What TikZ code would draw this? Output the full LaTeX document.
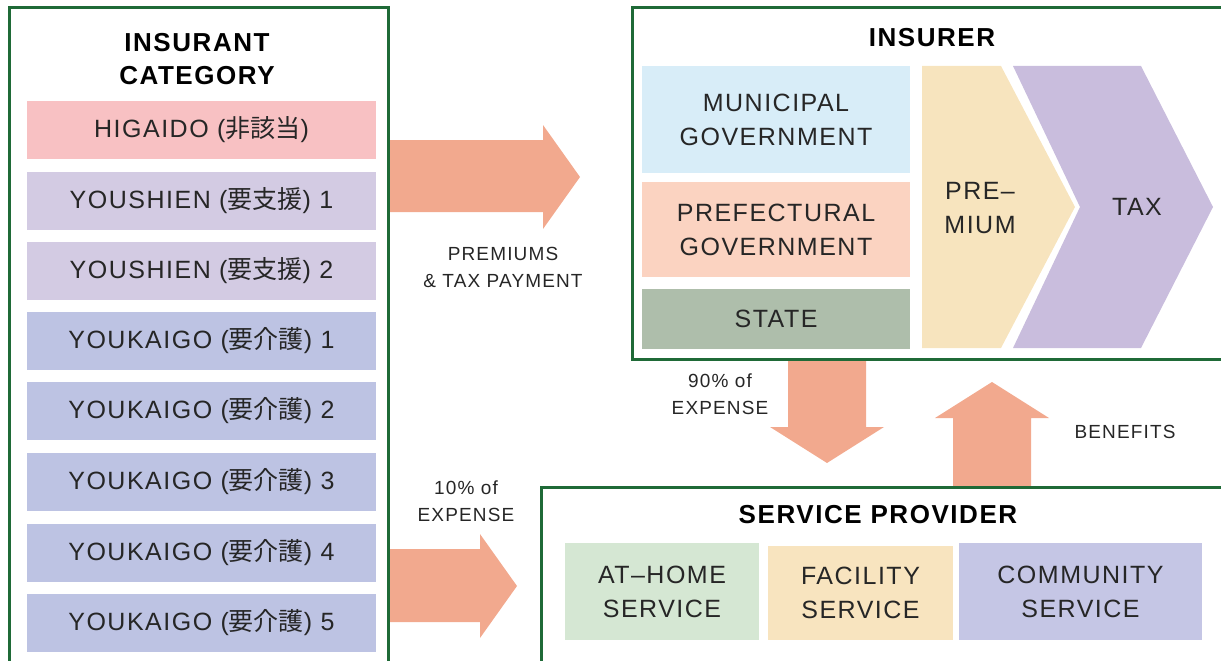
\documentclass[tikz,border=0pt]{standalone}
\usepackage{fontspec}
\setmainfont[LetterSpace=6]{Liberation Sans}
\newfontfamily\jp{Noto Sans CJK JP}

\definecolor{framegreen}{HTML}{1F6A37}
\definecolor{textgray}{HTML}{262626}
\definecolor{arrowsalmon}{HTML}{F2A98E}
\definecolor{higaidopink}{HTML}{F8C1C3}
\definecolor{youshienlilac}{HTML}{D3CBE3}
\definecolor{youkaigoblue}{HTML}{BDC3E3}
\definecolor{municipalblue}{HTML}{D8EDF8}
\definecolor{prefecturalpeach}{HTML}{FBD3C1}
\definecolor{stategreen}{HTML}{AEBEAB}
\definecolor{premiumsand}{HTML}{F7E4BE}
\definecolor{taxlilac}{HTML}{C9BDDD}
\definecolor{homegreen}{HTML}{D5E7D3}
\definecolor{facilitysand}{HTML}{F8E4BF}
\definecolor{communityblue}{HTML}{C5C6E5}

\begin{document}
\begin{tikzpicture}[x=1pt, y=-1pt,
	frame/.style={draw=framegreen, line width=3pt},
	box/.style={inner sep=0pt, text=textgray, align=center, font=\fontsize{25}{34}\selectfont},
	catbox/.style={box, minimum width=349pt, minimum height=58pt},
	title/.style={text=black, align=center, font=\bfseries\fontsize{26}{33}\selectfont},
	flowlabel/.style={text=textgray, align=center, font=\fontsize{19}{27}\selectfont},
	bigarrow/.style={fill=arrowsalmon}]

	\useasboundingbox (0, 0) rectangle (1221, 661);

	% fat arrows between the three blocks
	\fill[bigarrow] (388, 140) -- (543, 140) -- (543, 125) -- (580, 177) -- (543, 229) -- (543, 212) -- (388, 212) -- cycle;
	\fill[bigarrow] (388, 549) -- (480, 549) -- (480, 534) -- (517, 586) -- (480, 638) -- (480, 622) -- (388, 622) -- cycle;
	\fill[bigarrow] (788, 359) -- (866, 359) -- (866, 427) -- (884, 427) -- (827, 463) -- (770, 427) -- (788, 427) -- cycle;
	\fill[bigarrow] (953, 487) -- (1031, 487) -- (1031, 418) -- (1049, 418) -- (992, 382) -- (935, 418) -- (953, 418) -- cycle;

	% insurant categories
	\draw[frame] (9, 8) rectangle (388, 700);
	\node[title] (insurant) at (197, 59) {INSURANT\\CATEGORY};
	\node[catbox, fill=higaidopink]   (higaido)  at (201.5, 130)   {HIGAIDO ({\jp 非該当})};
	\node[catbox, fill=youshienlilac] (youshien1) at (201.5, 200.5) {YOUSHIEN ({\jp 要支援}) 1};
	\node[catbox, fill=youshienlilac] (youshien2) at (201.5, 271)   {YOUSHIEN ({\jp 要支援}) 2};
	\node[catbox, fill=youkaigoblue]  (youkaigo1) at (201.5, 341)   {YOUKAIGO ({\jp 要介護}) 1};
	\node[catbox, fill=youkaigoblue]  (youkaigo2) at (201.5, 411)   {YOUKAIGO ({\jp 要介護}) 2};
	\node[catbox, fill=youkaigoblue]  (youkaigo3) at (201.5, 482)   {YOUKAIGO ({\jp 要介護}) 3};
	\node[catbox, fill=youkaigoblue]  (youkaigo4) at (201.5, 552.5) {YOUKAIGO ({\jp 要介護}) 4};
	\node[catbox, fill=youkaigoblue]  (youkaigo5) at (201.5, 623)   {YOUKAIGO ({\jp 要介護}) 5};

	% insurer
	\draw[frame] (632, 8) rectangle (1260, 359);
	\node[title] (insurer) at (932, 38) {INSURER};
	\node[box, fill=municipalblue, minimum width=268pt, minimum height=107pt]    (municipal)   at (776, 119.5) {MUNICIPAL\\GOVERNMENT};
	\node[box, fill=prefecturalpeach, minimum width=268pt, minimum height=95pt]  (prefectural) at (776, 229.5) {PREFECTURAL\\GOVERNMENT};
	\node[box, fill=stategreen, minimum width=268pt, minimum height=60pt]        (state)       at (776, 319)   {STATE};
	\fill[premiumsand] (922, 66) -- (1001, 66) -- (1075, 207) -- (1001, 348) -- (922, 348) -- cycle;
	\fill[taxlilac] (1013, 66) -- (1141, 66) -- (1213, 207) -- (1141, 348) -- (1013, 348) -- (1080, 207) -- cycle;
	\node[box] (premium) at (980, 208) {PRE--\\MIUM};
	\node[box] (tax)     at (1137, 207) {TAX};

	% service provider
	\draw[frame] (541, 487) rectangle (1260, 700);
	\node[title] (provider) at (878, 515) {SERVICE PROVIDER};
	\node[box, fill=homegreen, minimum width=194pt, minimum height=97pt]      (athome)    at (662, 591.5)  {AT--HOME\\SERVICE};
	\node[box, fill=facilitysand, minimum width=185pt, minimum height=94pt]   (facility)  at (860.5, 593)  {FACILITY\\SERVICE};
	\node[box, fill=communityblue, minimum width=243pt, minimum height=97pt]  (community) at (1080.5, 591.5) {COMMUNITY\\SERVICE};

	% labels on the arrows
	\node[flowlabel] (premiums) at (503, 267)  {PREMIUMS\\\& TAX PAYMENT};
	\node[flowlabel] (ninety)   at (720, 394)  {90\% of\\EXPENSE};
	\node[flowlabel] (benefits) at (1125, 432) {BENEFITS};
	\node[flowlabel] (ten)      at (466, 501)  {10\% of\\EXPENSE};
\end{tikzpicture}
\end{document}
